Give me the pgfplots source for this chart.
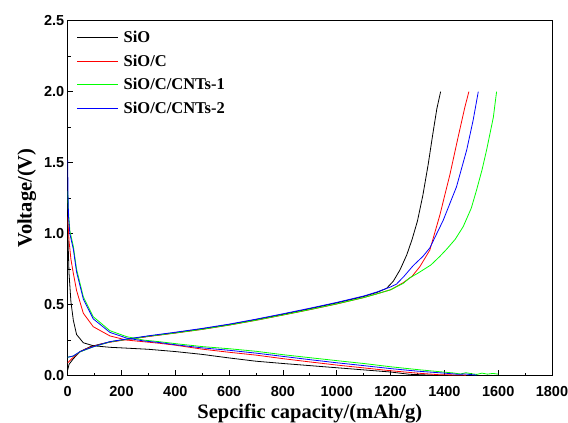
\documentclass[border=0pt]{standalone}
\usepackage{fontspec}
\setmainfont{Liberation Serif}
\newfontfamily\arialfont{Liberation Sans}
\usepackage{pgfplots}
\pgfplotsset{compat=1.18}
\begin{document}
\begin{tikzpicture}
\begin{axis}[
  scale only axis, width=484.3bp, height=355bp,
  xmin=0, xmax=1800, ymin=0, ymax=2.5,
  xtick={0,200,...,1800}, minor x tick num=1,
  ytick={0,0.5,...,2.5}, minor y tick num=1,
  xtick pos=bottom, ytick pos=left,
  tick align=inside,
  major tick length=5.5bp, minor tick length=3bp,
  every tick/.style={black, line width=0.8bp},
  axis line style={line width=1bp},
  /pgf/number format/assume math mode=true,
  y tick label style={/pgf/number format/.cd, fixed, fixed zerofill, precision=1},
  x tick label style={yshift=-7bp, /pgf/number format/.cd, fixed, 1000 sep={}},
  tick label style={font=\arialfont\bfseries\fontsize{14.5bp}{16bp}\selectfont},
  xlabel={Sepcific capacity/(mAh/g)},
  ylabel={Voltage/(V)},
  label style={font=\bfseries\fontsize{20.5bp}{23bp}\selectfont},
  xlabel style={yshift=-1bp},
  ylabel style={yshift=1bp},
  legend style={at={(0.012,0.982)}, anchor=north west, draw=none, fill=none,
    font=\bfseries\fontsize{16.5bp}{18bp}\selectfont, row sep=6.5bp, column sep=3bp},
  legend cell align=left,
  legend image code/.code={\draw[line width=1bp,#1] (0bp,0bp) -- (41bp,0bp);},
  every axis plot/.append style={line width=0.8bp},
]
% SiO
\addplot[color=black] coordinates {(0,0.04)(5,0.08)(21,0.12)(46,0.17)(83,0.204)(120,0.222)(157,0.238)(219,0.257)(250,0.264)(300,0.278)(400,0.303)(500,0.33)(600,0.36)(700,0.395)(800,0.432)(900,0.472)(1000,0.513)(1100,0.558)(1150,0.587)(1185,0.615)(1210,0.665)(1235,0.745)(1260,0.85)(1280,0.96)(1300,1.09)(1320,1.27)(1340,1.49)(1356,1.69)(1372,1.88)(1386,2.0)};
\addlegendentry{SiO}
\addplot[color=black, forget plot] coordinates {(0,1.1)(2,0.9)(5,0.72)(12,0.52)(21,0.39)(33,0.29)(58,0.232)(95,0.211)(157,0.2)(200,0.196)(300,0.186)(400,0.17)(500,0.15)(600,0.125)(700,0.102)(800,0.086)(900,0.071)(1000,0.056)(1100,0.041)(1200,0.026)(1270,0.01)(1350,0.004)(1400,0.003)};
% SiO/C
\addplot[color=red] coordinates {(0,0.09)(10,0.11)(21,0.13)(46,0.168)(83,0.2)(120,0.22)(157,0.236)(219,0.254)(300,0.276)(400,0.3)(500,0.326)(600,0.356)(700,0.39)(800,0.427)(900,0.465)(1000,0.505)(1100,0.55)(1150,0.577)(1200,0.605)(1247,0.655)(1280,0.7)(1309,0.768)(1346,0.885)(1383,1.13)(1421,1.42)(1451,1.68)(1476,1.89)(1491,2.0)};
\addlegendentry{SiO/C}
\addplot[color=red, forget plot] coordinates {(0,1.12)(2,1.05)(5,0.95)(12,0.82)(21,0.72)(33,0.6)(58,0.44)(95,0.345)(157,0.28)(219,0.251)(343,0.228)(400,0.215)(500,0.187)(600,0.165)(700,0.145)(800,0.12)(900,0.097)(1000,0.075)(1100,0.055)(1200,0.035)(1300,0.018)(1380,0.007)(1450,0.005)(1480,0.004)};
% SiO/C/CNTs-1
\addplot[color=green] coordinates {(0,0.13)(21,0.138)(46,0.168)(95,0.203)(157,0.238)(219,0.256)(300,0.278)(400,0.301)(500,0.327)(600,0.357)(700,0.391)(800,0.428)(900,0.466)(1000,0.506)(1100,0.55)(1150,0.577)(1200,0.605)(1247,0.65)(1272,0.69)(1300,0.72)(1350,0.78)(1383,0.84)(1408,0.89)(1440,0.96)(1470,1.05)(1500,1.18)(1520,1.31)(1540,1.45)(1557,1.59)(1582,1.82)(1594,2.0)};
\addlegendentry{SiO/C/CNTs-1}
\addplot[color=green, forget plot] coordinates {(0,1.3)(3,1.15)(8,1.02)(21,0.91)(33,0.75)(58,0.556)(95,0.415)(157,0.317)(219,0.275)(281,0.251)(343,0.239)(400,0.226)(500,0.205)(600,0.19)(700,0.172)(800,0.148)(900,0.127)(1000,0.106)(1100,0.086)(1200,0.063)(1300,0.043)(1400,0.025)(1430,0.02)(1460,0.012)(1480,0.021)(1500,0.014)(1520,0.009)(1540,0.018)(1560,0.011)(1580,0.016)(1600,0.011)};
% SiO/C/CNTs-2
\addplot[color=blue] coordinates {(0,0.13)(21,0.139)(46,0.17)(95,0.204)(157,0.24)(219,0.258)(300,0.281)(400,0.306)(500,0.333)(600,0.363)(700,0.398)(800,0.436)(900,0.475)(1000,0.516)(1100,0.561)(1150,0.59)(1200,0.625)(1222,0.645)(1250,0.7)(1284,0.775)(1320,0.84)(1346,0.9)(1396,1.096)(1445,1.33)(1483,1.59)(1507,1.8)(1526,2.0)};
\addlegendentry{SiO/C/CNTs-2}
\addplot[color=blue, forget plot] coordinates {(0,1.52)(1,1.3)(3,1.12)(8,1.0)(21,0.89)(33,0.73)(58,0.54)(95,0.4)(157,0.305)(219,0.265)(281,0.245)(343,0.233)(400,0.218)(500,0.196)(600,0.179)(700,0.159)(800,0.136)(900,0.113)(1000,0.091)(1100,0.071)(1200,0.05)(1300,0.032)(1400,0.018)(1450,0.01)(1480,0.012)(1500,0.007)(1520,0.005)};
\end{axis}
\pgfresetboundingbox
\path (-67.7bp,-47.3bp) rectangle (500.3bp,375.7bp);
\end{tikzpicture}
\end{document}
